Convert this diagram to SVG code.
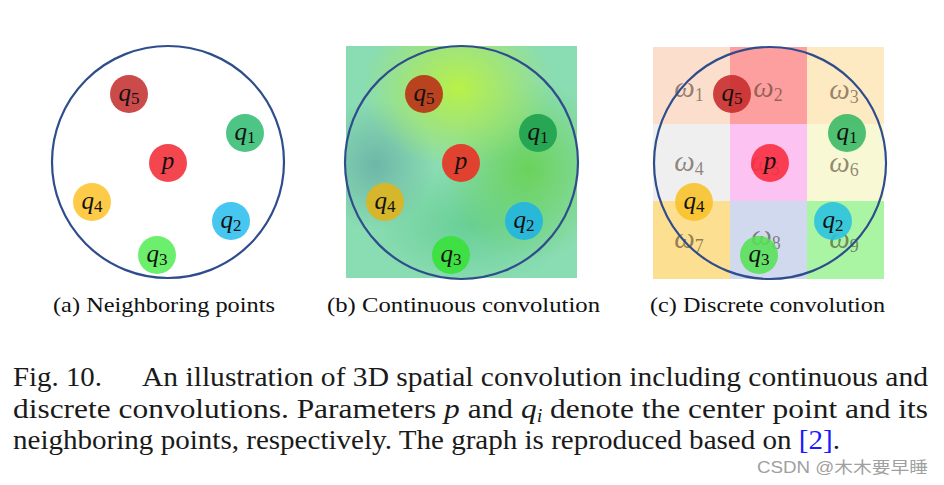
<svg xmlns="http://www.w3.org/2000/svg" width="944" height="485" viewBox="0 0 944 485">
<style>
.ring{fill:none;stroke:#2f4d8c;stroke-width:2.2}
.lbl{font-family:"Liberation Serif","DejaVu Serif",serif;font-style:italic;font-size:25px;fill:#111;text-anchor:middle}
.sub{font-size:17px;font-style:normal}
.om{font-family:"Liberation Serif","DejaVu Serif",serif;font-style:italic;font-size:29px;fill:#3a2a1a;fill-opacity:0.55;text-anchor:middle}
.osub{font-size:18px;font-style:normal}
.cap{font-family:"Liberation Serif","DejaVu Serif",serif;font-size:21px;fill:#111}
.fig{font-family:"Liberation Serif","Times New Roman",serif;font-size:28px;fill:#1a1a1a}
.mark{font-family:"Liberation Sans","Noto Sans CJK SC",sans-serif;font-size:16px;fill:#a0a0a0}
.cpts circle{fill-opacity:0.88}
</style>
<defs>
<clipPath id="clipB"><rect x="346" y="46" width="231" height="232"/></clipPath>
<radialGradient id="gY" cx="0.5" cy="0.5" r="0.5"><stop offset="0" stop-color="#b8f246"/><stop offset="0.45" stop-color="#aeea5a" stop-opacity="0.7"/><stop offset="1" stop-color="#a8e85a" stop-opacity="0"/></radialGradient>
<radialGradient id="gG" cx="0.5" cy="0.5" r="0.5"><stop offset="0" stop-color="#6ad25a"/><stop offset="1" stop-color="#6ad25a" stop-opacity="0"/></radialGradient>
<radialGradient id="gT" cx="0.5" cy="0.5" r="0.5"><stop offset="0" stop-color="#66ada6"/><stop offset="1" stop-color="#66ada6" stop-opacity="0"/></radialGradient>
<radialGradient id="gB" cx="0.5" cy="0.5" r="0.5"><stop offset="0" stop-color="#68cf96"/><stop offset="1" stop-color="#68cf96" stop-opacity="0"/></radialGradient>
</defs>

<!-- Panel (a) -->
<g id="panel-a">
<circle class="ring" cx="168" cy="162" r="116"/>
<g id="a-q5"><circle cx="129" cy="94" r="19" fill="#cb4a4a"/><text class="lbl" x="129" y="101">q<tspan class="sub" dy="3">5</tspan></text></g>
<g id="a-q1"><circle cx="245" cy="133" r="19" fill="#4dc585"/><text class="lbl" x="245" y="140">q<tspan class="sub" dy="3">1</tspan></text></g>
<g id="a-p"><circle cx="168" cy="163" r="19" fill="#f4464f"/><text class="lbl" x="168" y="169">p</text></g>
<g id="a-q4"><circle cx="92" cy="202" r="19" fill="#fdcb48"/><text class="lbl" x="92" y="209">q<tspan class="sub" dy="3">4</tspan></text></g>
<g id="a-q2"><circle cx="231" cy="221" r="19" fill="#47c7ef"/><text class="lbl" x="231" y="228">q<tspan class="sub" dy="3">2</tspan></text></g>
<g id="a-q3"><circle cx="157" cy="255" r="19" fill="#6cef6c"/><text class="lbl" x="157" y="262">q<tspan class="sub" dy="3">3</tspan></text></g>
<text class="cap" x="53" y="312" textLength="222" lengthAdjust="spacingAndGlyphs">(a) Neighboring points</text>
</g>

<!-- Panel (b) -->
<g id="panel-b">
<g clip-path="url(#clipB)">
<rect x="346" y="46" width="231" height="232" fill="#8adcb2"/>
<ellipse cx="470" cy="225" rx="100" ry="60" fill="url(#gB)"/>
<ellipse cx="528" cy="170" rx="85" ry="90" fill="url(#gG)"/>
<ellipse cx="375" cy="165" rx="60" ry="65" fill="url(#gT)" opacity="0.8"/>
<ellipse cx="458" cy="88" rx="95" ry="80" fill="url(#gY)"/>
</g>
<circle class="ring" cx="461.5" cy="162.5" r="116.5"/>
<g id="b-q5"><circle cx="424" cy="94" r="19" fill="#b9431f"/><text class="lbl" x="424" y="101">q<tspan class="sub" dy="3">5</tspan></text></g>
<g id="b-q1"><circle cx="538" cy="133" r="19" fill="#27a653"/><text class="lbl" x="538" y="140">q<tspan class="sub" dy="3">1</tspan></text></g>
<g id="b-p"><circle cx="461" cy="163" r="19" fill="#e1412f"/><text class="lbl" x="461" y="169">p</text></g>
<g id="b-q4"><circle cx="385" cy="202" r="19" fill="#d6b62a"/><text class="lbl" x="385" y="209">q<tspan class="sub" dy="3">4</tspan></text></g>
<g id="b-q2"><circle cx="524" cy="221" r="19" fill="#2ab8d8"/><text class="lbl" x="524" y="228">q<tspan class="sub" dy="3">2</tspan></text></g>
<g id="b-q3"><circle cx="451" cy="255" r="19" fill="#3fe043"/><text class="lbl" x="451" y="262">q<tspan class="sub" dy="3">3</tspan></text></g>
<text class="cap" x="327" y="312" textLength="273" lengthAdjust="spacingAndGlyphs">(b) Continuous convolution</text>
</g>

<!-- Panel (c) -->
<g id="panel-c">
<rect x="653" y="47" width="77" height="77" fill="#fbdfcc"/>
<rect x="730" y="47" width="77" height="77" fill="#fe9f9f"/>
<rect x="807" y="47" width="77" height="77" fill="#fdeac3"/>
<rect x="653" y="124" width="77" height="77" fill="#efefef"/>
<rect x="730" y="124" width="77" height="77" fill="#fcc2f2"/>
<rect x="807" y="124" width="77" height="77" fill="#f8f8d4"/>
<rect x="653" y="201" width="77" height="78" fill="#fddf92"/>
<rect x="730" y="201" width="77" height="78" fill="#d0d9ee"/>
<rect x="807" y="201" width="77" height="78" fill="#aaf5a4"/>
<text class="om" x="689" y="97">ω<tspan class="osub" dy="4">1</tspan></text>
<text class="om" x="768" y="97">ω<tspan class="osub" dy="4">2</tspan></text>
<text class="om" x="844" y="99">ω<tspan class="osub" dy="4">3</tspan></text>
<text class="om" x="689" y="171">ω<tspan class="osub" dy="4">4</tspan></text>
<text class="om" x="765" y="171">ω<tspan class="osub" dy="4">5</tspan></text>
<text class="om" x="844" y="172">ω<tspan class="osub" dy="4">6</tspan></text>
<text class="om" x="689" y="248">ω<tspan class="osub" dy="4">7</tspan></text>
<text class="om" x="766" y="245">ω<tspan class="osub" dy="4">8</tspan></text>
<text class="om" x="844" y="248">ω<tspan class="osub" dy="4">9</tspan></text>
<circle class="ring" cx="770" cy="163" r="116"/>
<g class="cpts">
<g id="c-q5"><circle cx="732" cy="94" r="19" fill="#c62a2a"/><text class="lbl" x="732" y="101">q<tspan class="sub" dy="3">5</tspan></text></g>
<g id="c-q1"><circle cx="847" cy="133" r="19" fill="#36b764"/><text class="lbl" x="847" y="140">q<tspan class="sub" dy="3">1</tspan></text></g>
<g id="c-p"><circle cx="770" cy="163" r="19" fill="#fb2a3e"/><text class="lbl" x="770" y="169">p</text></g>
<g id="c-q4"><circle cx="694" cy="202" r="19" fill="#f8c228"/><text class="lbl" x="694" y="209">q<tspan class="sub" dy="3">4</tspan></text></g>
<g id="c-q2"><circle cx="833" cy="221" r="19" fill="#28c2e0"/><text class="lbl" x="833" y="228">q<tspan class="sub" dy="3">2</tspan></text></g>
<g id="c-q3"><circle cx="759" cy="255" r="19" fill="#55e055"/><text class="lbl" x="759" y="262">q<tspan class="sub" dy="3">3</tspan></text></g>
</g>
<text class="cap" x="650" y="312" textLength="235" lengthAdjust="spacingAndGlyphs">(c) Discrete convolution</text>
</g>

<!-- Figure caption -->
<g id="caption">
<text class="fig" x="13" y="386" textLength="89" lengthAdjust="spacingAndGlyphs">Fig. 10.</text>
<text class="fig" x="142" y="386" textLength="786" lengthAdjust="spacingAndGlyphs">An illustration of 3D spatial convolution including continuous and</text>
<text class="fig" x="13" y="418" textLength="915" lengthAdjust="spacingAndGlyphs">discrete convolutions. Parameters <tspan font-style="italic">p</tspan> and <tspan font-style="italic">q<tspan font-size="18" dy="4">i</tspan></tspan><tspan dy="-4"> denote the center point and its</tspan></text>
<text class="fig" x="13" y="449" textLength="827" lengthAdjust="spacingAndGlyphs">neighboring points, respectively. The graph is reproduced based on <tspan fill="#1a1aff">[2]</tspan>.</text>
<text class="mark" x="757" y="473" textLength="171" lengthAdjust="spacingAndGlyphs">CSDN @木木要早睡</text>
</g>
</svg>
